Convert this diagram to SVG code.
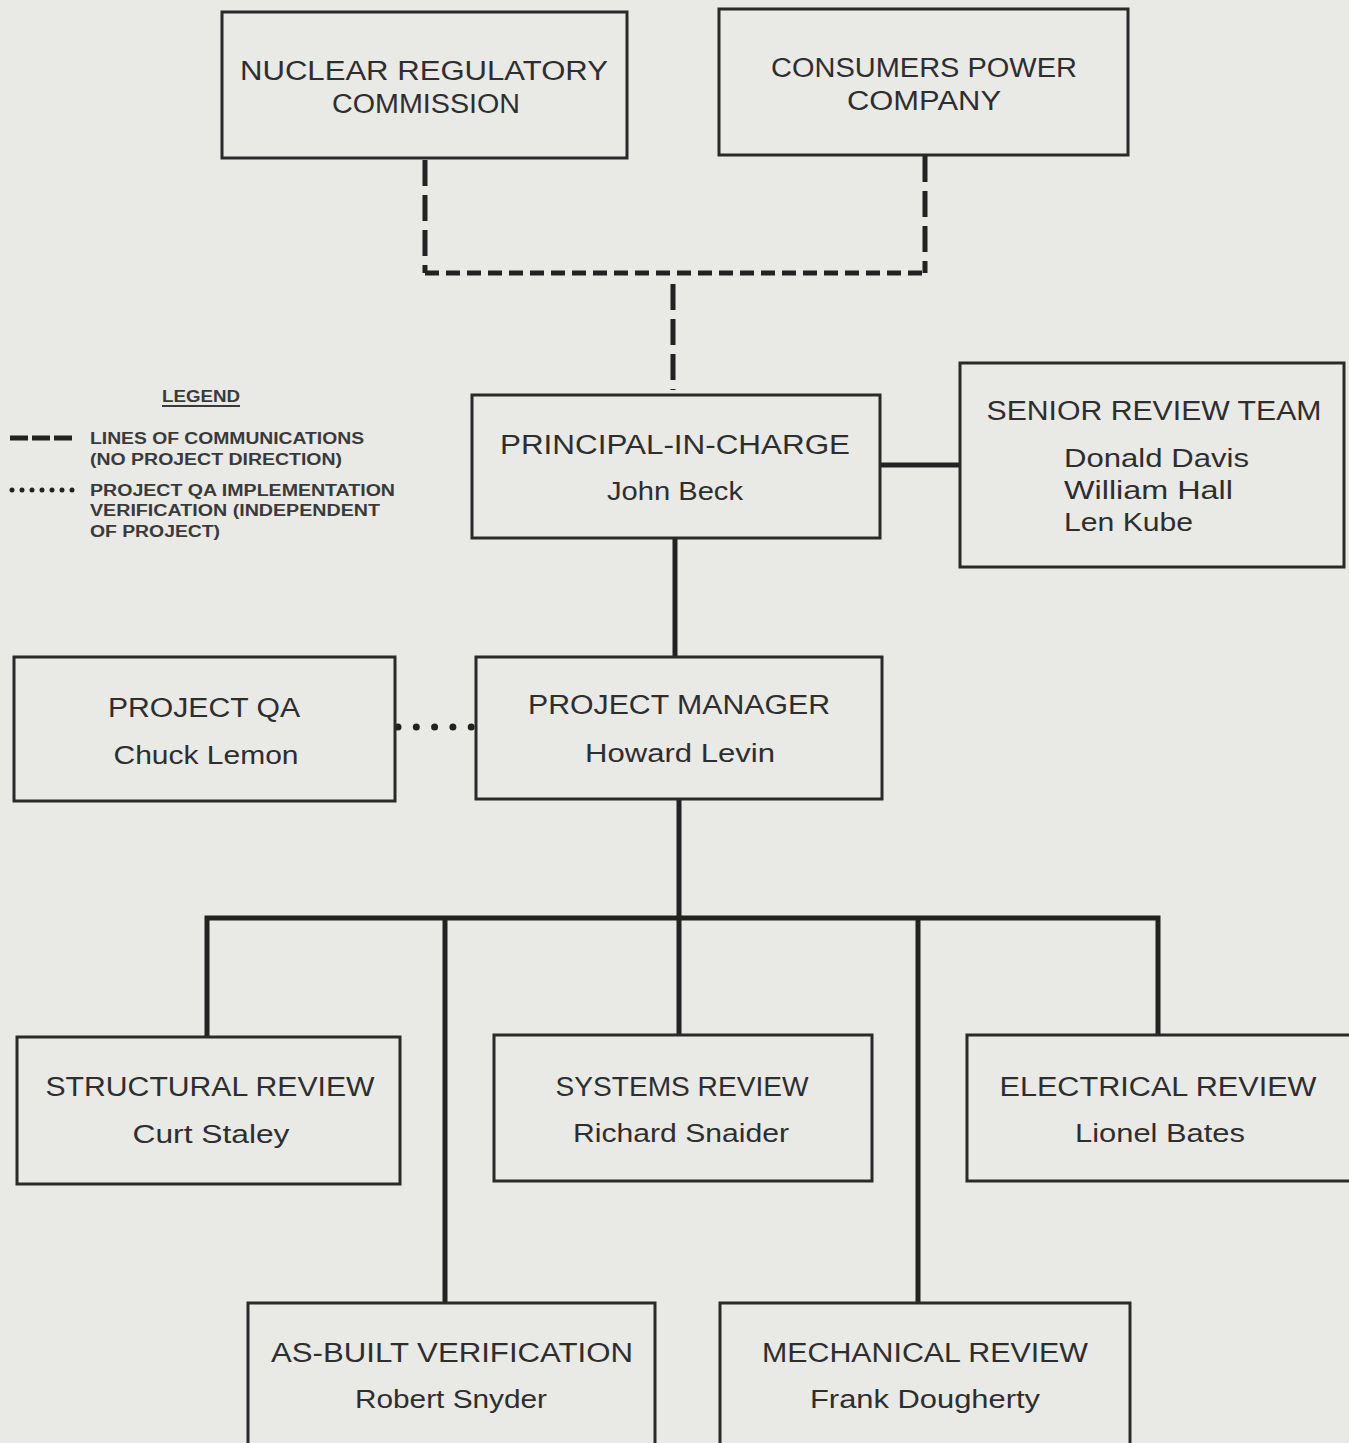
<svg xmlns="http://www.w3.org/2000/svg" width="1349" height="1443" viewBox="0 0 1349 1443">
  <style>
    .box { fill: none; stroke: #2a2a2a; stroke-width: 3; }
    .t { font-family: "Liberation Sans", Arial, sans-serif; font-size: 27px; fill: #2e2e2e; text-anchor: middle; }
    .n { font-family: "Liberation Sans", Arial, sans-serif; font-size: 26px; fill: #2e2e2e; text-anchor: middle; }
    .lg { font-family: "Liberation Sans", Arial, sans-serif; font-size: 16px; font-weight: bold; fill: #3a3a3a; }
    .solid { fill: none; stroke: #222; stroke-width: 5; }
    .dashv { fill: none; stroke: #222; stroke-width: 5; stroke-dasharray: 26 9; }
    .dashh { fill: none; stroke: #222; stroke-width: 5; stroke-dasharray: 14 7; }
    .dot { fill: none; stroke: #222; stroke-width: 7; stroke-linecap: round; stroke-dasharray: 0 18.3; }
  </style>
  <rect width="1349" height="1443" fill="#e9e9e6"/>

  <!-- connectors -->
  <g id="connectors">
    <path class="dashv" d="M425,160 V273"/>
    <path class="dashv" d="M925,156 V273"/>
    <path class="dashh" d="M425,273 H925"/>
    <path class="dashv" d="M673,284 V390"/>
    <path class="solid" d="M880,465 H960"/>
    <path class="solid" d="M675,538 V657"/>
    <path class="dot" d="M398,727 H472"/>
    <path class="solid" d="M679,799 V918"/>
    <path class="solid" d="M207,1037 V918 H1158 V1035"/>
    <path class="solid" d="M445,918 V1303"/>
    <path class="solid" d="M679,918 V1035"/>
    <path class="solid" d="M918,918 V1303"/>
  </g>

  <!-- legend -->
  <g id="legend">
    <text class="lg" x="162" y="402" textLength="78" lengthAdjust="spacingAndGlyphs">LEGEND</text>
    <line x1="162" y1="406" x2="240" y2="406" stroke="#3a3a3a" stroke-width="2"/>
    <line x1="10" y1="438" x2="75" y2="438" stroke="#222" stroke-width="5" stroke-dasharray="18 4"/>
    <text class="lg" x="90" y="444" textLength="274" lengthAdjust="spacingAndGlyphs">LINES OF COMMUNICATIONS</text>
    <text class="lg" x="90" y="465" textLength="252" lengthAdjust="spacingAndGlyphs">(NO PROJECT DIRECTION)</text>
    <line x1="12" y1="490" x2="76" y2="490" stroke="#222" stroke-width="5" stroke-linecap="round" stroke-dasharray="0 10"/>
    <text class="lg" x="90" y="496" textLength="305" lengthAdjust="spacingAndGlyphs">PROJECT QA IMPLEMENTATION</text>
    <text class="lg" x="90" y="516" textLength="290" lengthAdjust="spacingAndGlyphs">VERIFICATION (INDEPENDENT</text>
    <text class="lg" x="90" y="537" textLength="130" lengthAdjust="spacingAndGlyphs">OF PROJECT)</text>
  </g>

  <g id="nrc">
    <rect class="box" x="222" y="12" width="405" height="146"/>
    <text class="t" x="424" y="80" textLength="368" lengthAdjust="spacingAndGlyphs">NUCLEAR REGULATORY</text>
    <text class="t" x="426" y="113" textLength="188" lengthAdjust="spacingAndGlyphs">COMMISSION</text>
  </g>

  <g id="cpc">
    <rect class="box" x="719" y="9" width="409" height="146"/>
    <text class="t" x="924" y="77" textLength="306" lengthAdjust="spacingAndGlyphs">CONSUMERS POWER</text>
    <text class="t" x="924" y="110" textLength="154" lengthAdjust="spacingAndGlyphs">COMPANY</text>
  </g>

  <g id="principal">
    <rect class="box" x="472" y="395" width="408" height="143"/>
    <text class="t" x="675" y="454" textLength="350" lengthAdjust="spacingAndGlyphs">PRINCIPAL-IN-CHARGE</text>
    <text class="n" x="675" y="500" textLength="136" lengthAdjust="spacingAndGlyphs">John Beck</text>
  </g>

  <g id="senior-review">
    <rect class="box" x="960" y="363" width="384" height="204"/>
    <text class="t" x="1154" y="420" textLength="335" lengthAdjust="spacingAndGlyphs">SENIOR  REVIEW TEAM</text>
    <text class="n" x="1064" y="467" style="text-anchor:start" textLength="185" lengthAdjust="spacingAndGlyphs">Donald  Davis</text>
    <text class="n" x="1064" y="499" style="text-anchor:start" textLength="169" lengthAdjust="spacingAndGlyphs">William Hall</text>
    <text class="n" x="1064" y="531" style="text-anchor:start" textLength="129" lengthAdjust="spacingAndGlyphs">Len Kube</text>
  </g>

  <g id="project-qa">
    <rect class="box" x="14" y="657" width="381" height="144"/>
    <text class="t" x="204" y="717" textLength="192" lengthAdjust="spacingAndGlyphs">PROJECT QA</text>
    <text class="n" x="206" y="764" textLength="185" lengthAdjust="spacingAndGlyphs">Chuck Lemon</text>
  </g>

  <g id="project-manager">
    <rect class="box" x="476" y="657" width="406" height="142"/>
    <text class="t" x="679" y="714" textLength="302" lengthAdjust="spacingAndGlyphs">PROJECT MANAGER</text>
    <text class="n" x="680" y="762" textLength="190" lengthAdjust="spacingAndGlyphs">Howard Levin</text>
  </g>

  <g id="structural-review">
    <rect class="box" x="17" y="1037" width="383" height="147"/>
    <text class="t" x="210" y="1096" textLength="329" lengthAdjust="spacingAndGlyphs">STRUCTURAL REVIEW</text>
    <text class="n" x="211" y="1143" textLength="157" lengthAdjust="spacingAndGlyphs">Curt Staley</text>
  </g>

  <g id="systems-review">
    <rect class="box" x="494" y="1035" width="378" height="146"/>
    <text class="t" x="682" y="1096" textLength="253" lengthAdjust="spacingAndGlyphs">SYSTEMS REVIEW</text>
    <text class="n" x="681" y="1142" textLength="216" lengthAdjust="spacingAndGlyphs">Richard Snaider</text>
  </g>

  <g id="electrical-review">
    <rect class="box" x="967" y="1035" width="384" height="146"/>
    <text class="t" x="1158" y="1096" textLength="317" lengthAdjust="spacingAndGlyphs">ELECTRICAL REVIEW</text>
    <text class="n" x="1160" y="1142" textLength="170" lengthAdjust="spacingAndGlyphs">Lionel Bates</text>
  </g>

  <g id="as-built-verification">
    <rect class="box" x="248" y="1303" width="407" height="150"/>
    <text class="t" x="452" y="1362" textLength="362" lengthAdjust="spacingAndGlyphs">AS-BUILT VERIFICATION</text>
    <text class="n" x="451" y="1408" textLength="192" lengthAdjust="spacingAndGlyphs">Robert Snyder</text>
  </g>

  <g id="mechanical-review">
    <rect class="box" x="720" y="1303" width="410" height="150"/>
    <text class="t" x="925" y="1362" textLength="326" lengthAdjust="spacingAndGlyphs">MECHANICAL REVIEW</text>
    <text class="n" x="925" y="1408" textLength="230" lengthAdjust="spacingAndGlyphs">Frank Dougherty</text>
  </g>
</svg>
